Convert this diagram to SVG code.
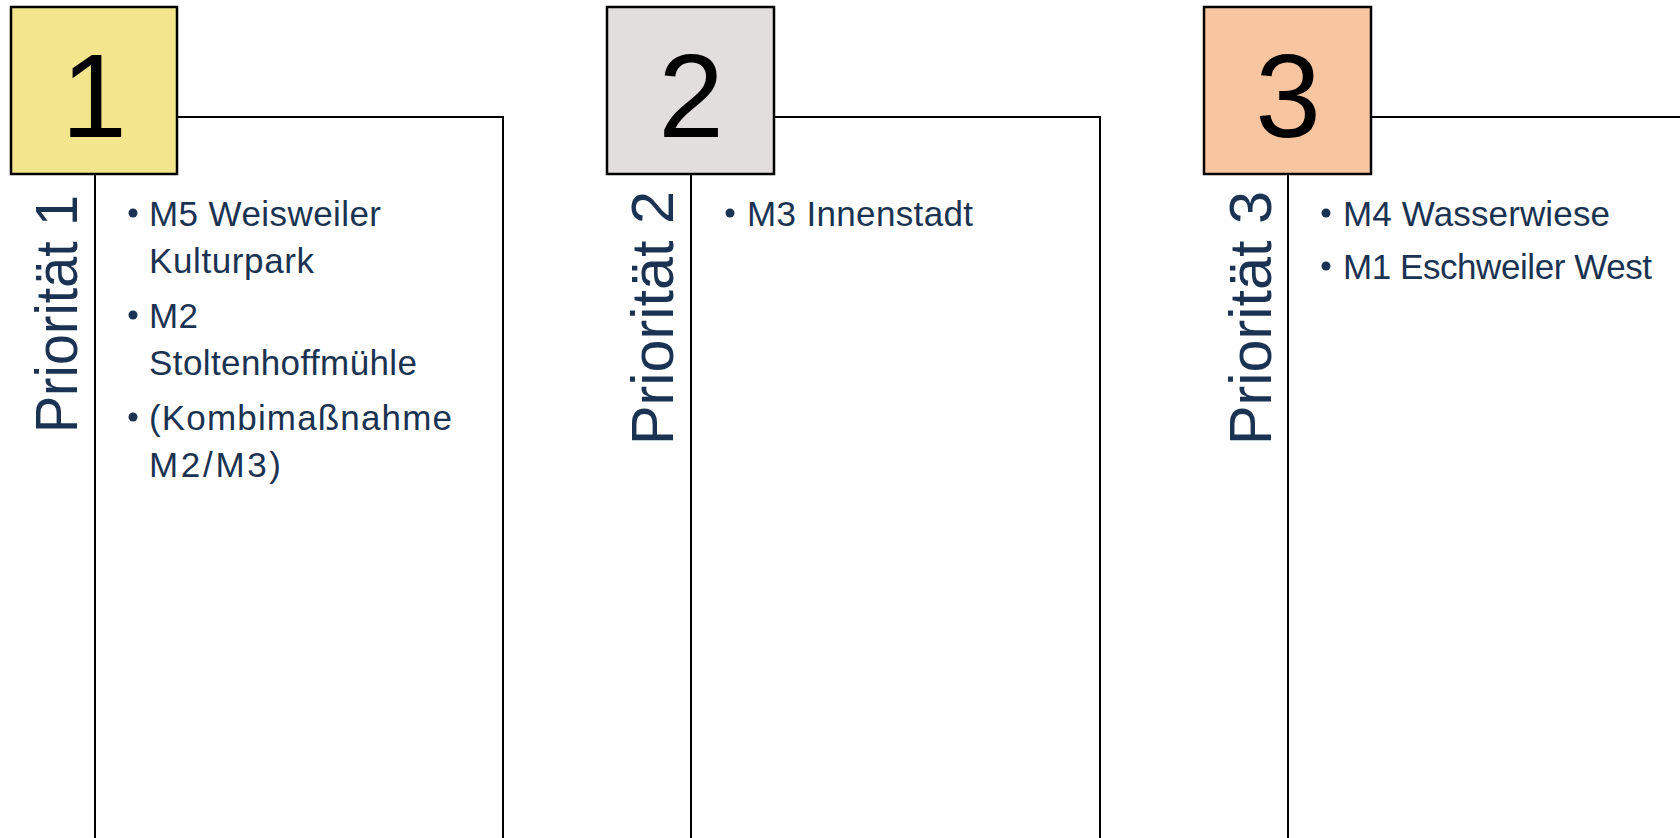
<svg xmlns="http://www.w3.org/2000/svg" width="1680" height="838" viewBox="0 0 1680 838">
<style>
.sq{stroke:#000;stroke-width:2.5}
.ln{fill:none;stroke:#000;stroke-width:2}
.num{font-family:"Liberation Sans",Arial,sans-serif;font-size:118px;fill:#000;text-anchor:middle}
.vt{font-family:"Liberation Sans",Arial,sans-serif;font-size:60px;fill:#1B3352;text-anchor:middle}
.bt{font-family:"Liberation Sans",Arial,sans-serif;font-size:35px;fill:#1B3352}
.dot{fill:#1B3352}
</style>
<rect width="1680" height="838" fill="#fff"/>
<g id="connectors">
<path class="ln" d="M177,117 H503 V838"/>
<path class="ln" d="M95,174 V838"/>
<path class="ln" d="M774,117 H1100 V838"/>
<path class="ln" d="M691,174 V838"/>
<path class="ln" d="M1372,117 H1680"/>
<path class="ln" d="M1288,174 V838"/>
</g>
<g id="prio1">
<rect class="sq" x="11" y="7" width="166" height="167" fill="#F2E58D"/>
<text class="num" x="94" y="137">1</text>
<text class="vt" transform="translate(77,314) rotate(-90)" x="0" y="0" textLength="238" lengthAdjust="spacingAndGlyphs">Priorität 1</text>
<circle class="dot" cx="133" cy="213" r="4.5"/>
<text class="bt" x="149" y="226" textLength="232">M5 Weisweiler</text>
<text class="bt" x="149" y="273" textLength="165">Kulturpark</text>
<circle class="dot" cx="133" cy="315" r="4.5"/>
<text class="bt" x="149" y="328" textLength="49">M2</text>
<text class="bt" x="149" y="375" textLength="268">Stoltenhoffmühle</text>
<circle class="dot" cx="133" cy="417" r="4.5"/>
<text class="bt" x="149" y="430" textLength="303">(Kombimaßnahme</text>
<text class="bt" x="149" y="477" textLength="132">M2/M3)</text>
</g>
<g id="prio2">
<rect class="sq" x="607" y="7" width="167" height="167" fill="#E1DEDD"/>
<text class="num" x="691" y="137">2</text>
<text class="vt" transform="translate(673,318) rotate(-90)" x="0" y="0" textLength="254" lengthAdjust="spacingAndGlyphs">Priorität 2</text>
<circle class="dot" cx="730" cy="213" r="4.5"/>
<text class="bt" x="747" y="226" textLength="226">M3 Innenstadt</text>
</g>
<g id="prio3">
<rect class="sq" x="1204" y="7" width="167" height="167" fill="#F7C6A0"/>
<text class="num" x="1288" y="137">3</text>
<text class="vt" transform="translate(1271,318) rotate(-90)" x="0" y="0" textLength="254" lengthAdjust="spacingAndGlyphs">Priorität 3</text>
<circle class="dot" cx="1326" cy="213" r="4.5"/>
<text class="bt" x="1343" y="226" textLength="267">M4 Wasserwiese</text>
<circle class="dot" cx="1326" cy="266" r="4.5"/>
<text class="bt" x="1343" y="279" textLength="309">M1 Eschweiler West</text>
</g>
</svg>
